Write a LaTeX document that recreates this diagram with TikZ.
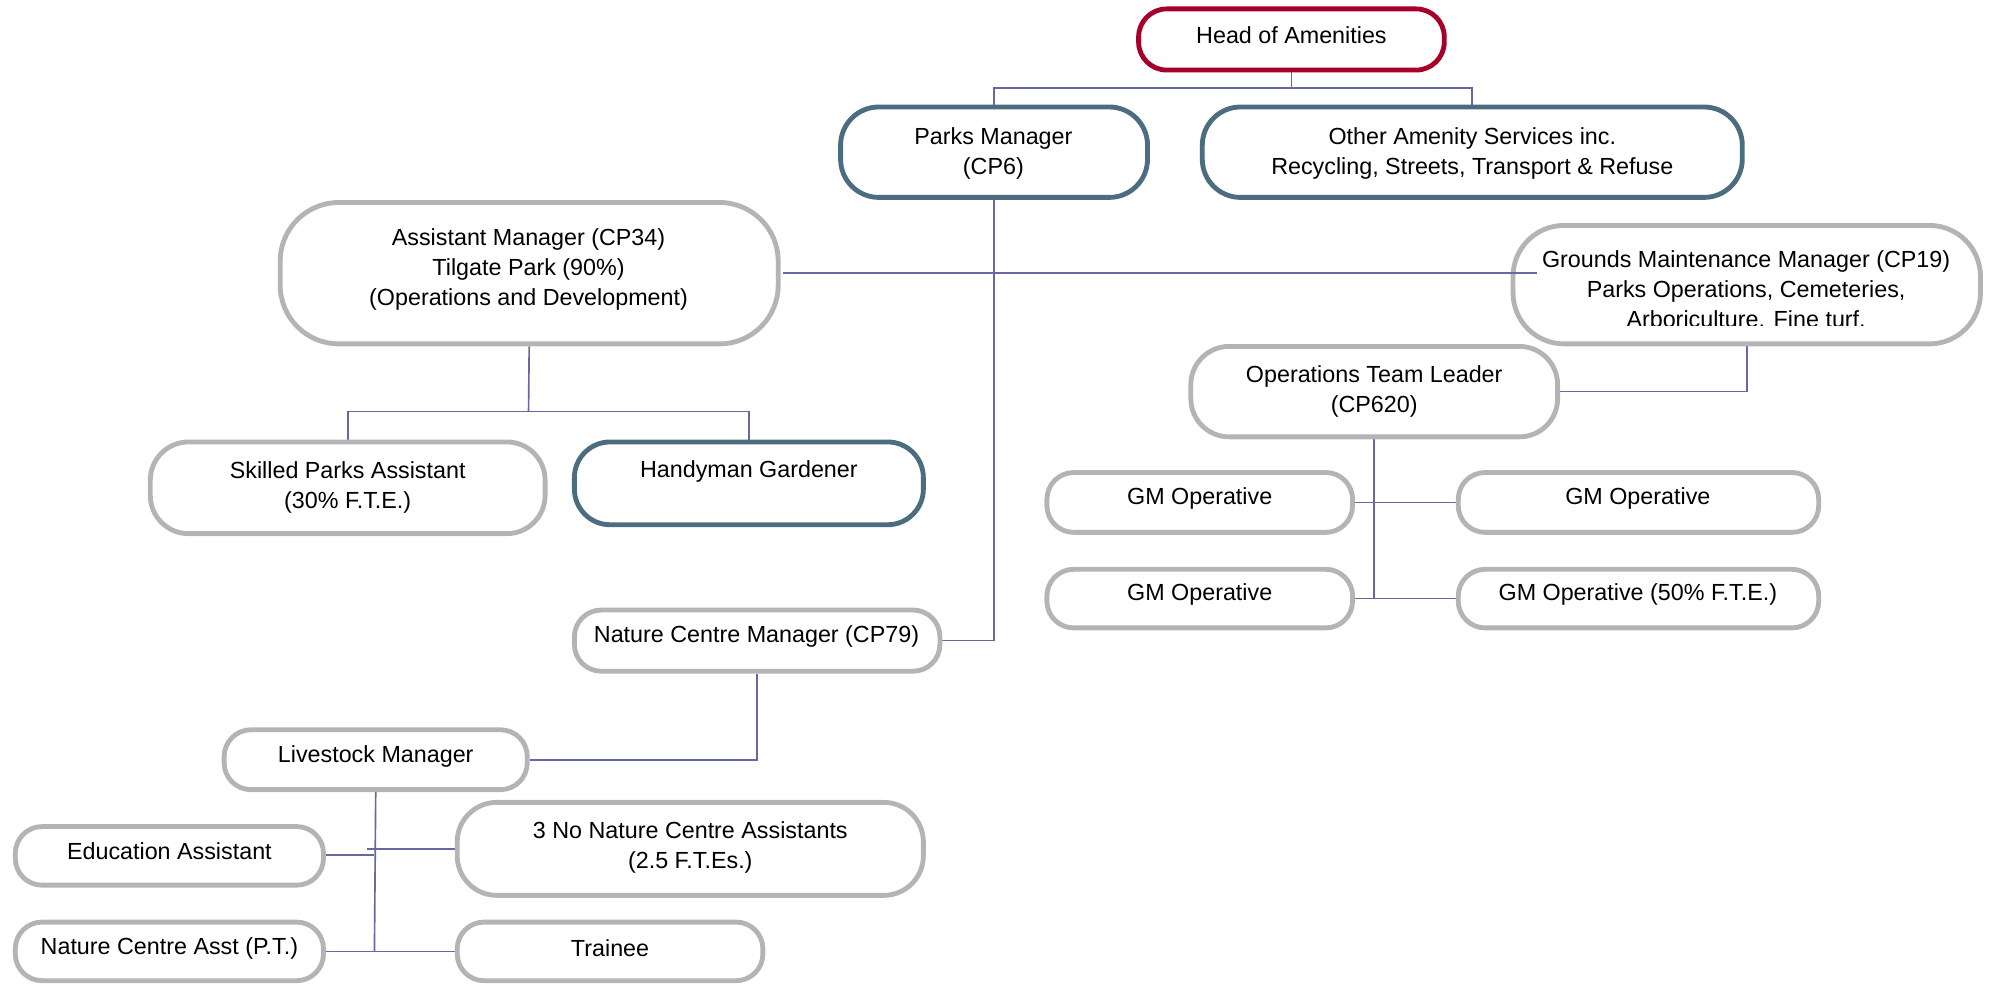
\documentclass[tikz,border=0pt]{standalone}
\usepackage{fontspec}
\setmainfont{Liberation Sans}
\usetikzlibrary{backgrounds}
\definecolor{boxgray}{RGB}{180,180,180}
\definecolor{boxblue}{RGB}{76,108,128}
\definecolor{boxred}{RGB}{166,0,42}
\definecolor{linec}{RGB}{104,104,160}
\tikzset{
  basebox/.style={draw, line width=3.8pt, fill=white, inner sep=0pt},
  gbox/.style={basebox, draw=boxgray},
  bbox/.style={basebox, draw=boxblue},
  rbox/.style={basebox, draw=boxred},
  txt/.style={align=center, inner sep=0pt, font=\fontsize{18.3}{23.3}\selectfont},
  conn/.style={draw=linec, line width=1.3pt},
}
\begin{document}
\begin{tikzpicture}[x=1pt,y=-1pt]
\useasboundingbox (0,0) rectangle (1568,774);
% junctions
\coordinate (j1) at (1014,69);
\coordinate (j2) at (415,323);
\coordinate (j3) at (1079,470);
\coordinate (j4) at (294,747);
\coordinate (j5) at (288,666.4);
% boxes
\node[rbox, minimum width=240, minimum height=48, rounded corners=22] (head) at (1014,31) {};
\node[bbox, minimum width=241, minimum height=71, rounded corners=30] (pm) at (780.5,119.5) {};
\node[bbox, minimum width=424, minimum height=71, rounded corners=30] (oas) at (1156,119.5) {};
\node[gbox, minimum width=391, minimum height=111, rounded corners=46] (am) at (415.5,214.5) {};
\node[gbox, minimum width=367, minimum height=93, rounded corners=40] (gmm) at (1371.5,223.5) {};
\node[gbox, minimum width=310, minimum height=72, rounded corners=30] (spa) at (273,383) {};
\node[bbox, minimum width=274, minimum height=65, rounded corners=28] (hg) at (588,379.5) {};
\node[gbox, minimum width=288, minimum height=71, rounded corners=30] (otl) at (1079,307.5) {};
\node[gbox, minimum width=240, minimum height=47, rounded corners=21] (gm1) at (942,394.5) {};
\node[gbox, minimum width=283, minimum height=47, rounded corners=21] (gm2) at (1286.5,394.5) {};
\node[gbox, minimum width=240, minimum height=46, rounded corners=21] (gm3) at (942,470) {};
\node[gbox, minimum width=283, minimum height=46, rounded corners=21] (gm4) at (1286.5,470) {};
\node[gbox, minimum width=287, minimum height=48, rounded corners=21] (ncm) at (594.5,503) {};
\node[gbox, minimum width=238, minimum height=47, rounded corners=21] (lm) at (295,596.5) {};
\node[gbox, minimum width=242, minimum height=46, rounded corners=21] (ea) at (133,672) {};
\node[gbox, minimum width=366, minimum height=73, rounded corners=31] (nca) at (542,666.5) {};
\node[gbox, minimum width=242, minimum height=46, rounded corners=21] (ncapt) at (133,747) {};
\node[gbox, minimum width=240, minimum height=46, rounded corners=21] (tr) at (479,747) {};
% connectors (behind boxes)
\begin{scope}[on background layer]
\draw[conn] (head.south) -- (j1);
\draw[conn] (pm.north) |- (j1) -| (oas.north);
\draw[conn] (pm.south) |- (ncm.east);
\draw[conn] (am.south) -- (j2);
\draw[conn] (spa.north) |- (j2) -| (hg.north);
\draw[conn] (gmm.south) |- (otl.east);
\draw[conn] (otl.south) -- (j3);
\draw[conn] (gm1.east) -- (gm2.west);
\draw[conn] (gm3.east) -- (gm4.west);
\draw[conn] (ncm.south) |- (lm.east);
\draw[conn] (lm.south) -- (j4);
\draw[conn] (ncapt.east) -- (tr.west);
\draw[conn] ([yshift=0.6pt]ea.east) -- ([yshift=0.6pt]ea.east -| j4);
\draw[conn] (j5) -- (j5 -| nca.west);
\end{scope}
\draw[conn] ([xshift=2pt]am.east) -- ([xshift=21pt]am.east -| gmm.west);
% texts
\node[txt] (head-t) at (1014,28) {Head of Amenities};
\node[txt] (pm-t) at (780,120.5) {Parks Manager\\(CP6)};
\node[txt] (oas-t) at (1156,120.5) {Other Amenity Services inc.\\Recycling, Streets, Transport \& Refuse};
\node[txt] (am-t) at (415,211.5) {Assistant Manager (CP34)\\Tilgate Park (90\%)\\(Operations and Development)};
\begin{scope}
\clip (1190,178) rectangle (1553,255.5);
\node[txt] (gmm-t) at (1371,227) {Grounds Maintenance Manager (CP19)\\Parks Operations, Cemeteries,\\Arboriculture. Fine turf.};
\end{scope}
\node[txt] (spa-t) at (273,382.5) {Skilled Parks Assistant\\(30\% F.T.E.)};
\node[txt] (hg-t) at (588,370.5) {Handyman Gardener};
\node[txt] (otl-t) at (1079,307.5) {Operations Team Leader\\(CP620)};
\node[txt] (gm1-t) at (942,391) {GM Operative};
\node[txt] (gm2-t) at (1286,391) {GM Operative};
\node[txt] (gm3-t) at (942,467) {GM Operative};
\node[txt] (gm4-t) at (1286,467) {GM Operative (50\% F.T.E.)};
\node[txt] (ncm-t) at (594,500) {Nature Centre Manager (CP79)};
\node[txt] (lm-t) at (295,594) {Livestock Manager};
\node[txt] (ea-t) at (133,668.5) {Education Assistant};
\node[txt] (nca-t) at (542,665.5) {3 No Nature Centre Assistants\\(2.5 F.T.Es.)};
\node[txt] (ncapt-t) at (133,744.5) {Nature Centre Asst (P.T.)};
\node[txt] (tr-t) at (479,744.5) {Trainee};
\end{tikzpicture}
\end{document}
